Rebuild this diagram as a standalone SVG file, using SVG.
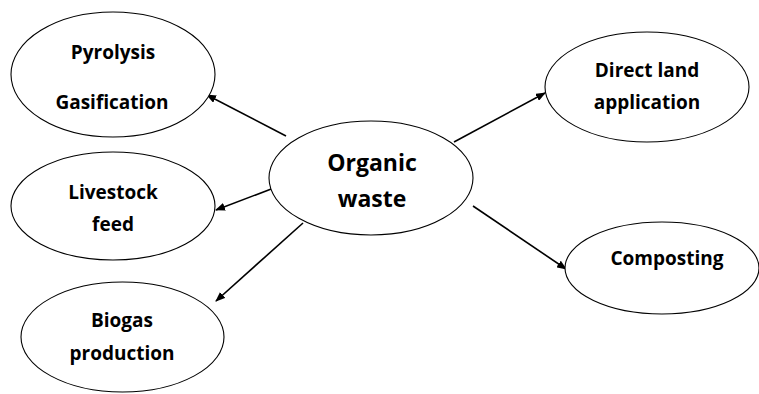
<svg xmlns="http://www.w3.org/2000/svg" width="759" height="394" viewBox="0 0 759 394">
<defs>
<marker id="ah" markerWidth="10" markerHeight="8" refX="9" refY="4" orient="auto" markerUnits="userSpaceOnUse">
<path d="M0,0 L10,4 L0,8 Z" fill="#000"/>
</marker>
<style>
.n{fill:#fff;stroke:#000;stroke-width:1.1}
.t{font-family:"Open Sans","Liberation Sans",sans-serif;font-weight:bold;font-size:19px;text-anchor:middle;fill:#000}
.tb{font-size:23px}
.c{stroke:#000;stroke-width:1.6;fill:none;marker-end:url(#ah)}
</style>
</defs>
<rect width="759" height="394" fill="#fff"/>
<g id="connectors">
<line class="c" x1="286" y1="136" x2="207" y2="95"/>
<line class="c" x1="279" y1="186" x2="216" y2="210"/>
<line class="c" x1="303" y1="223" x2="216" y2="301"/>
<line class="c" x1="454" y1="142" x2="545" y2="93"/>
<line class="c" x1="473" y1="206" x2="566" y2="269"/>
</g>
<g id="pyrolysis">
<ellipse class="n" cx="113" cy="74.5" rx="102" ry="62.5"/>
<text class="t" x="113" y="59">Pyrolysis</text>
<text class="t" x="112" y="109">Gasification</text>
</g>
<g id="livestock">
<ellipse class="n" cx="113" cy="206" rx="102" ry="54"/>
<text class="t" x="113" y="199">Livestock</text>
<text class="t" x="113" y="231">feed</text>
</g>
<g id="biogas">
<ellipse class="n" cx="122.5" cy="337" rx="101.5" ry="55"/>
<text class="t" x="122" y="327">Biogas</text>
<text class="t" x="122" y="360">production</text>
</g>
<g id="organic">
<ellipse class="n" cx="371" cy="178" rx="102" ry="57"/>
<text class="t tb" x="372" y="171">Organic</text>
<text class="t tb" x="372" y="207">waste</text>
</g>
<g id="direct">
<ellipse class="n" cx="647" cy="87" rx="102" ry="55"/>
<text class="t" x="647" y="77">Direct land</text>
<text class="t" x="647" y="109">application</text>
</g>
<g id="composting">
<ellipse class="n" cx="662" cy="268" rx="97" ry="46"/>
<text class="t" x="667" y="265">Composting</text>
</g>
</svg>
